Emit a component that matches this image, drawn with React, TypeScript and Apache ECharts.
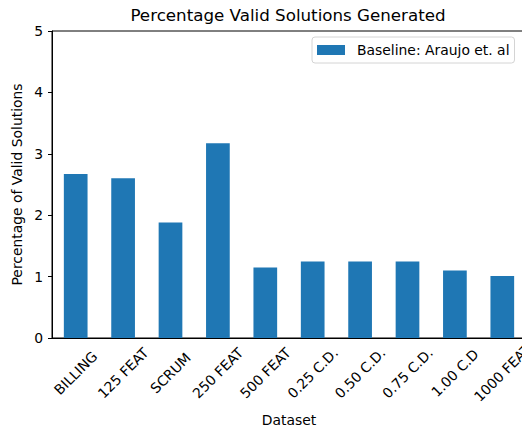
import React, { useEffect, useRef } from "react";
import * as echarts from "echarts";

const categories = ["BILLING", "125 FEAT", "SCRUM", "250 FEAT", "500 FEAT", "0.25 C.D.", "0.50 C.D.", "0.75 C.D.", "1.00 C.D", "1000 FEAT"];
const baselineValues = [2.67, 2.6, 1.88, 3.17, 1.15, 1.245, 1.245, 1.245, 1.1, 1.01];
const seriesName = "Baseline: Araujo et. al";
const titleText = "Percentage Valid Solutions Generated";
const xAxisName = "Dataset";
const yAxisName = "Percentage of Valid Solutions";

const FONT = "DejaVu Sans";
const FS = 13.9;

export default function App() {
  const ref = useRef<HTMLDivElement>(null);
  useEffect(() => {
    if (!ref.current) return;
    const chart = echarts.init(ref.current, undefined, { renderer: "svg" });
    chart.setOption({
      animation: false,
      textStyle: { fontFamily: FONT, color: "#000" },
      title: {
        text: titleText,
        left: 288,
        top: 6,
        padding: 0,
        textAlign: "center",
        textStyle: { fontFamily: FONT, fontSize: 16.7, fontWeight: "normal", color: "#000" },
      },
      legend: {
        left: 312,
        top: 37,
        padding: [6, 5, 6, 5],
        itemWidth: 28,
        itemHeight: 10,
        borderColor: "#d4d4d4",
        borderWidth: 1,
        borderRadius: 3,
        backgroundColor: "#fff",
        icon: "rect",
        textStyle: { fontFamily: FONT, fontSize: FS, color: "#000", padding: [0, 0, 0, 7] },
        data: [seriesName],
      },
      grid: {
        left: 52,
        top: 31,
        bottom: 94,
        right: -4,
        containLabel: false,
        outerBoundsMode: "none",
        show: true,
        borderColor: "#000",
        borderWidth: 1,
        backgroundColor: "transparent",
      },
      xAxis: {
        type: "category",
        data: categories,
        name: xAxisName,
        nameLocation: "middle",
        nameGap: 75,
        nameMoveOverlap: false,
        nameTextStyle: { fontFamily: FONT, fontSize: FS, color: "#000" },
        axisLine: { lineStyle: { color: "#000", width: 1 } },
        axisTick: { alignWithLabel: true, length: 4, lineStyle: { color: "#000" } },
        axisLabel: {
          rotate: 45,
          align: "center",
          verticalAlign: "middle",
          margin: 35,
          fontFamily: FONT,
          fontSize: FS,
          color: "#000",
          interval: 0,
        },
      },
      yAxis: {
        type: "value",
        min: 0,
        max: 5,
        interval: 1,
        name: yAxisName,
        nameLocation: "middle",
        nameGap: 28,
        nameMoveOverlap: false,
        nameTextStyle: { fontFamily: FONT, fontSize: FS, color: "#000" },
        axisLine: { show: true, lineStyle: { color: "#000", width: 1 } },
        axisTick: { show: true, length: 4, lineStyle: { color: "#000" } },
        axisLabel: { margin: 9, fontFamily: FONT, fontSize: FS, color: "#000" },
        splitLine: { show: false },
      },
      series: [
        {
          name: seriesName,
          type: "bar",
          data: baselineValues,
          barWidth: "50%",
          itemStyle: { color: "#1f77b4" },
        },
      ],
    });
    return () => chart.dispose();
  }, []);
  return (
    <div
      ref={ref}
      style={{ position: "fixed", left: 0, top: 0, width: 522, height: 432, background: "#fff" }}
    />
  );
}
